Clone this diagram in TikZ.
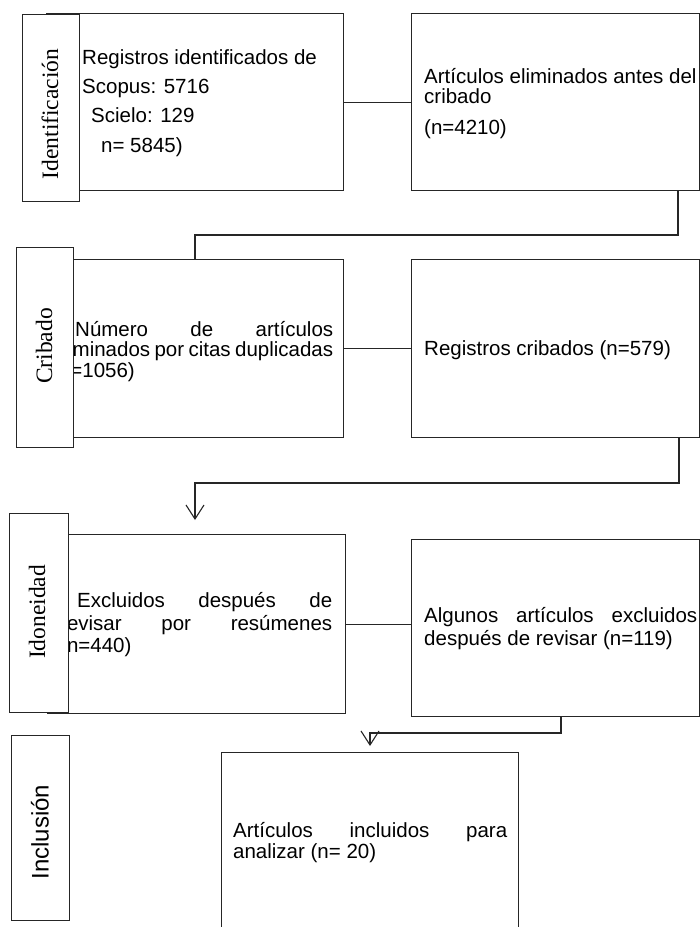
\documentclass[tikz,border=0pt]{standalone}
\usepackage{fontspec}
\setmainfont{Liberation Sans}
\newfontfamily\serifL{Liberation Serif}
\usetikzlibrary{arrows.meta}
\begin{document}
\begin{tikzpicture}[x=1pt,y=-1pt,
  box/.style={draw=black!85, line width=1.1pt, fill=white, rectangle, inner sep=0pt, anchor=north west},
  conn/.style={draw=black!85, line width=1.1pt},
  arr/.style={conn, -{Straight Barb[length=14pt,width=18pt]}},
  txt/.style={anchor=base west, inner sep=0pt, font=\fontsize{20.5}{24}\selectfont},
  lbl/.style={rotate=90, inner sep=0pt, font=\serifL\fontsize{23.5}{26}\selectfont},
  lbls/.style={rotate=90, inner sep=0pt, font=\fontsize{24}{26}\selectfont},
]
\useasboundingbox (0,0) rectangle (700,927);

% main boxes
\node[box, minimum width=297pt, minimum height=177pt] (b1) at (46,13) {};
\node[box, minimum width=287.5pt, minimum height=177pt] (b2) at (411,13) {};
\node[box, minimum width=298pt, minimum height=178pt] (b3) at (45,259) {};
\node[box, minimum width=287.5pt, minimum height=178pt] (b4) at (411,259) {};
\node[box, minimum width=298pt, minimum height=179pt] (b5) at (47,534) {};
\node[box, minimum width=287.5pt, minimum height=177pt] (b6) at (411,539) {};
\node[box, minimum width=297pt, minimum height=200pt] (b7) at (221,752) {};

% texts
\node[txt] (t1a) at (82,64) {Registros identificados de};
\node[txt] (t1b) at (82,93) {Scopus: 5716};
\node[txt] (t1c) at (91,122) {Scielo: 129};
\node[txt] (t1d) at (101,152) {n= 5845)};

\node[txt] (t2a) at (424,83) {Artículos eliminados antes del};
\node[txt] (t2b) at (424,103) {cribado};
\node[txt] (t2c) at (424,134) {(n=4210)};

\node[txt] (t3a) at (75,336) {\makebox[258pt][s]{Número de artículos}};
\node[txt] (t3b) at (52,356) {\makebox[281pt][s]{eliminados por citas duplicadas}};
\node[txt] (t3c) at (52,377) {(n=1056)};

\node[txt] (t4a) at (424,355) {Registros cribados (n=579)};

\node[txt] (t5a) at (77,607) {\makebox[255pt][s]{Excluidos después de}};
\node[txt] (t5b) at (60,630) {\makebox[272pt][s]{revisar por resúmenes}};
\node[txt] (t5c) at (60,652) {(n=440)};

\node[txt] (t6a) at (424,622) {\makebox[273pt][s]{Algunos artículos excluidos}};
\node[txt] (t6b) at (424,645) {después de revisar (n=119)};

\node[txt] (t7a) at (233,837) {\makebox[274pt][s]{Artículos incluidos para}};
\node[txt] (t7b) at (233,858) {analizar (n= 20)};

% side boxes
\node[box, minimum width=57pt, minimum height=187pt] (s1) at (22,14) {};
\node[box, minimum width=57pt, minimum height=200pt] (s2) at (16,247) {};
\node[box, minimum width=59pt, minimum height=199pt] (s3) at (9,513) {};
\node[box, minimum width=58pt, minimum height=185pt] (s4) at (11,735) {};
\node[lbl] (l1) at (50,114) {Identificación};
\node[lbl] (l2) at (44,346) {Cribado};
\node[lbl] (l3) at (37,612) {Idoneidad};
\node[lbls] (l4) at (40,832) {Inclusión};

% connectors
\coordinate (k1) at (678,235);
\coordinate (k2) at (195,235);
\coordinate (k3) at (679,483);
\coordinate (k4) at (195,483);
\coordinate (e1) at (195,520);
\coordinate (k5) at (561,733);
\coordinate (k6) at (370,733);
\coordinate (e2) at (370,746);

\draw[conn] (b1.east) -- (b1.east -| b2.west);
\draw[conn] (b2.south -| k1) -- (k1) -- (k2) -- (b3.north -| k2);
\draw[conn] (b3.east) -- (b3.east -| b4.west);
\draw[arr] (b4.south -| k3) -- (k3) -- (k4) -- (e1);
\draw[conn] (b5.east) -- (b5.east -| b6.west);
\draw[arr] (b6.south -| k5) -- (k5) -- (k6) -- (e2);
\end{tikzpicture}
\end{document}
